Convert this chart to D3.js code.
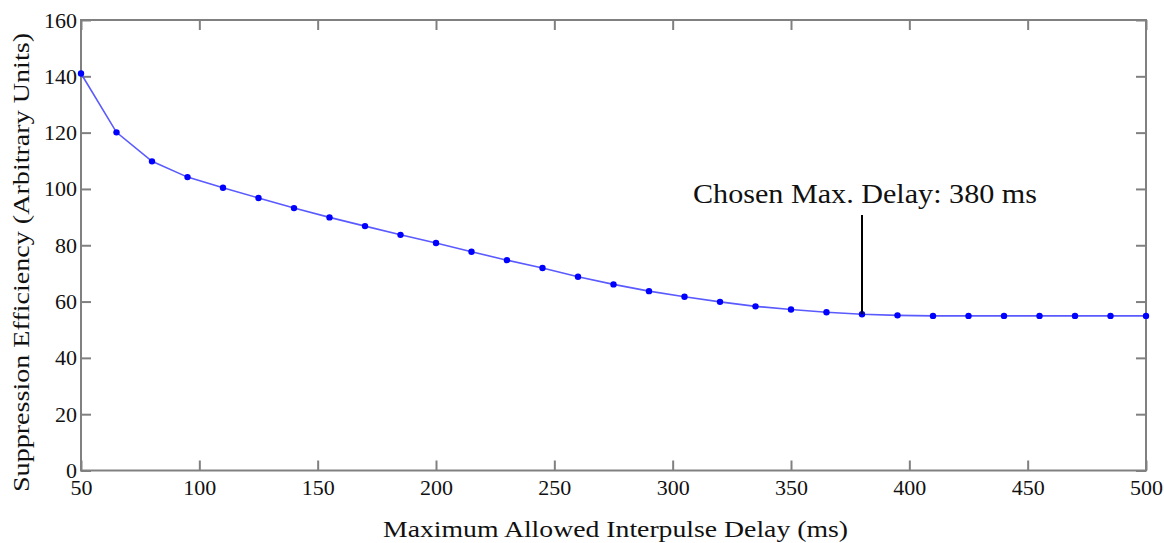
<!DOCTYPE html>
<html><head><meta charset="utf-8">
<script src="https://cdn.jsdelivr.net/npm/d3@7"></script>
<style>body{margin:0;background:#fff}svg{display:block}text{font-family:"Liberation Serif","Times New Roman",serif;fill:#111}</style>
</head><body>
<svg id="c" width="1164" height="543"></svg>
<script>
const delays = [50,65,80,95,110,125,140,155,170,185,200,215,230,245,260,275,290,305,320,335,350,365,380,395,410,425,440,455,470,485,500];
const efficiency = [141.0,120.1,109.8,104.2,100.4,96.8,93.2,89.9,86.8,83.7,80.8,77.7,74.7,71.9,68.8,66.1,63.7,61.7,59.9,58.3,57.2,56.2,55.5,55.1,54.9,54.9,54.9,54.9,54.9,54.9,54.9];
const xTicks = [50,100,150,200,250,300,350,400,450,500];
const yTicks = [0,20,40,60,80,100,120,140,160];
const chosenDelay = 380;
const annotation = "Chosen Max. Delay: 380 ms";
const xLabel = "Maximum Allowed Interpulse Delay (ms)";
const yLabel = "Suppression Efficiency (Arbitrary Units)";

const svg = d3.select("#c");
const L=81, R=1146, T=20, B=470.5;
const x = d3.scaleLinear().domain([50,500]).range([L,R]);
const y = d3.scaleLinear().domain([0,160]).range([B,T]);
const axisColor = "#808080";

svg.append("rect").attr("x",L).attr("y",T).attr("width",R-L).attr("height",B-T)
  .attr("fill","none").attr("stroke",axisColor).attr("stroke-width",2);

function styleAxis(g){
  g.select(".domain").remove();
  g.selectAll(".tick line").attr("stroke",axisColor).attr("stroke-width",2);
  g.selectAll(".tick text").style("font-size","22px").attr("fill","#111");
}
svg.append("g").attr("transform",`translate(0,${B})`)
  .call(d3.axisBottom(x).tickValues(xTicks).tickSizeInner(-10).tickSizeOuter(0).tickPadding(9))
  .call(styleAxis);
svg.append("g").attr("transform",`translate(0,${T})`)
  .call(d3.axisTop(x).tickValues(xTicks).tickSizeInner(-10).tickSizeOuter(0).tickFormat(""))
  .call(styleAxis);
svg.append("g").attr("transform",`translate(${L},0)`)
  .call(d3.axisLeft(y).tickValues(yTicks).tickSizeInner(-10).tickSizeOuter(0).tickPadding(4))
  .call(styleAxis);
svg.append("g").attr("transform",`translate(${R},0)`)
  .call(d3.axisRight(y).tickValues(yTicks).tickSizeInner(-10).tickSizeOuter(0).tickFormat(""))
  .call(styleAxis);

const data = delays.map((d,i)=>({d, v:efficiency[i]}));
svg.append("path").datum(data)
  .attr("d", d3.line().x(p=>x(p.d)).y(p=>y(p.v)))
  .attr("fill","none").attr("stroke","#5a5aff").attr("stroke-width",1.6);
svg.append("g").selectAll("circle").data(data).join("circle")
  .attr("cx",p=>x(p.d)).attr("cy",p=>y(p.v)).attr("r",3.2).attr("fill","#0000ff");

const cv = efficiency[delays.indexOf(chosenDelay)];
svg.append("line").attr("x1",x(chosenDelay)).attr("x2",x(chosenDelay))
  .attr("y1",215).attr("y2",y(cv)).attr("stroke","#000").attr("stroke-width",2);
svg.append("text").attr("x",693).attr("y",203).style("font-size","27px")
  .attr("textLength",344).attr("lengthAdjust","spacingAndGlyphs").text(annotation);

svg.append("text").attr("x",(383+848)/2).attr("y",537).attr("text-anchor","middle")
  .style("font-size","24px").attr("textLength",465).attr("lengthAdjust","spacingAndGlyphs").text(xLabel);
svg.append("text").attr("transform",`translate(29,${(33+492)/2}) rotate(-90)`).attr("text-anchor","middle")
  .style("font-size","24px").attr("textLength",459).attr("lengthAdjust","spacingAndGlyphs").text(yLabel);
</script>
</body></html>
